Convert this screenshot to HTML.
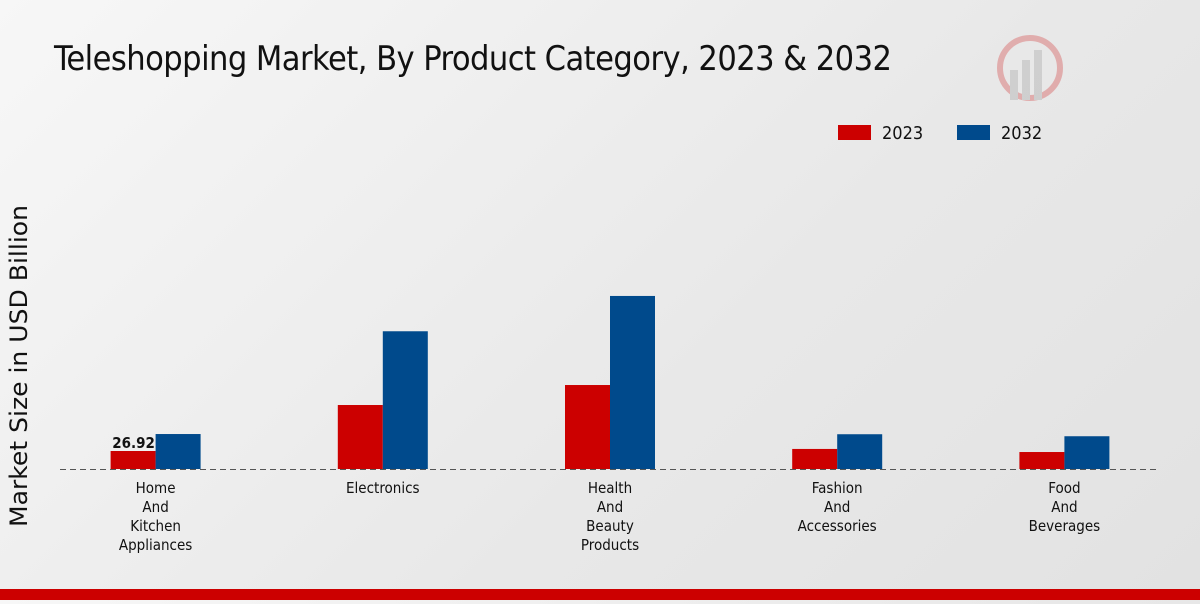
<!DOCTYPE html>
<html><head><meta charset="utf-8"><style>
body{margin:0;width:1200px;height:600px;overflow:hidden;background:linear-gradient(135deg,#f7f7f7 0%,#e8e8e8 60%,#e2e2e2 100%);font-family:"DejaVu Sans Condensed","Liberation Sans",sans-serif;}
</style></head><body>
<svg width="1200" height="600" xmlns="http://www.w3.org/2000/svg">
<text x="54" y="70" font-size="34" fill="#111" style="font-family:'Liberation Sans Narrow','DejaVu Sans Condensed',sans-serif" textLength="838">Teleshopping Market, By Product Category, 2023 &amp; 2032</text>
<g opacity="0.25">
<circle cx="1030" cy="68" r="30" fill="none" stroke="#c00" stroke-width="6"/>
<rect x="1010" y="70" width="8" height="30" fill="#888"/><rect x="1022" y="60" width="8" height="40" fill="#888"/><rect x="1034" y="50" width="8" height="50" fill="#888"/>
</g>
<g>
<rect x="838" y="125" width="33" height="15" fill="#cc0000"/>
<text x="882" y="139" font-size="18" fill="#111">2023</text>
<rect x="957" y="125" width="33" height="15" fill="#004a8c"/>
<text x="1001" y="139" font-size="18" fill="#111">2032</text>
</g>
<text transform="translate(27,366) rotate(-90)" text-anchor="middle" font-size="24" fill="#111" style="font-family:'DejaVu Sans',sans-serif" textLength="322" lengthAdjust="spacingAndGlyphs">Market Size in USD Billion</text>
<g id="plot"></g>
<rect x="0" y="589" width="1200" height="11" fill="#cc0000"/>
</svg>
<script>
const categories=[["Home","And","Kitchen","Appliances"],["Electronics"],["Health","And","Beauty","Products"],["Fashion","And","Accessories"],["Food","And","Beverages"]];
const values2023=[26.92,95.7,125.6,30,25.4];
const values2032=[52.3,206,258.8,52,49];
const labels2023=["26.92","","","",""];
const NS="http://www.w3.org/2000/svg";
const g=document.getElementById('plot');
const baseY=469, pxPer=18/26.92, x0=42, x1=1178;
const step=(x1-x0)/categories.length;
const xC=i=>x0+step*(i+0.5);
const yS=v=>baseY-v*pxPer;
function mk(t,a){const e=document.createElementNS(NS,t);for(const k in a)e.setAttribute(k,a[k]);g.appendChild(e);return e;}
categories.forEach((c,i)=>{
 const cx=xC(i);
 const r1=mk('rect',{x:cx-45,y:yS(values2023[i]),width:45,height:baseY-yS(values2023[i]),fill:'#cc0000'});
 
 
 const r2=mk('rect',{x:cx,y:yS(values2032[i]),width:45,height:baseY-yS(values2032[i]),fill:'#004a8c'});
 
 
 if(labels2023[i]){const t=mk('text',{x:cx-22,y:yS(values2023[i])-3,'text-anchor':'middle','font-size':15,'font-weight':'bold',fill:'#111'});t.textContent=labels2023[i];
 
 }
 c.forEach((l,j)=>{const t=mk('text',{x:cx,y:493+j*19,'text-anchor':'middle','font-size':15,fill:'#111'});t.textContent=l;
 
 });
});
const ax=mk('line',{x1:60,x2:1160,y1:baseY+0.5,y2:baseY+0.5,stroke:'#555','stroke-dasharray':'6,4'});


</script>
</body></html>
